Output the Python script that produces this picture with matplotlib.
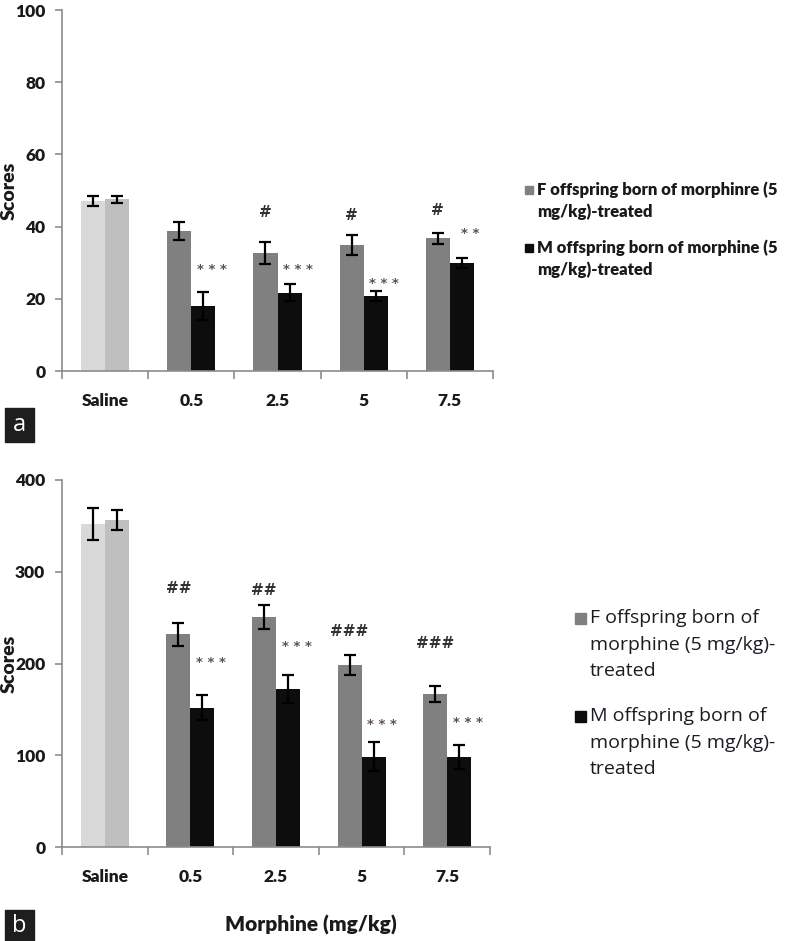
import matplotlib
matplotlib.use("Agg")
import matplotlib.pyplot as plt
from matplotlib.patches import Rectangle
import numpy as np

# ---------------- data ----------------
categories = ["Saline", "0.5", "2.5", "5", "7.5"]

# panel a
a_f_means = [47.1, 38.8, 32.7, 34.9, 36.8]
a_f_err = [1.4, 2.6, 3.1, 2.9, 1.5]
a_m_means = [47.6, 18.0, 21.7, 20.8, 29.8]
a_m_err = [1.0, 4.0, 2.3, 1.3, 1.4]
a_f_marks = ["", "", "#", "#", "#"]
a_f_mark_y = [0, 0, 44, 43, 44.5]
a_m_marks = ["", "***", "***", "***", "**"]
a_m_mark_y = [0, 28, 28, 24.3, 38]
a_yticks = [0, 20, 40, 60, 80, 100]

# panel b
b_f_means = [352, 232, 251, 198, 167]
b_f_err = [17.4, 12.4, 12.9, 11.0, 8.9]
b_m_means = [356, 152, 172.5, 98.5, 98.5]
b_m_err = [11.0, 13.8, 15.3, 15.4, 13.0]
b_f_marks = ["", "##", "##", "###", "###"]
b_f_mark_y = [0, 282, 280, 235, 222]
b_m_marks = ["", "***", "***", "***", "***"]
b_m_mark_y = [0, 201.5, 218, 133, 136]
b_yticks = [0, 100, 200, 300, 400]

a_legend = ["F offspring born of morphinre (5\nmg/kg)-treated",
            "M offspring born of morphine (5\nmg/kg)-treated"]
b_legend = ["F offspring born of\nmorphine (5 mg/kg)-\ntreated",
            "M offspring born of\nmorphine (5 mg/kg)-\ntreated"]

# ---------------- style ----------------
F_COLORS = ["#d9d9d9", "#808080", "#808080", "#808080", "#808080"]
M_COLORS = ["#bfbfbf", "#0d0d0d", "#0d0d0d", "#0d0d0d", "#0d0d0d"]
AXIS_COLOR = "#8c8c8c"
STAR_COLOR = "#5e5252"
FONT = "Lato"

W, H = 786, 941
fig = plt.figure(figsize=(W / 100, H / 100), dpi=100)


def px_axes(x0, y0, x1, y1):
    return fig.add_axes([x0 / W, 1 - y1 / H, (x1 - x0) / W, (y1 - y0) / H])


def draw_panel(ax, fm, fe, mm, me, fmarks, fmy, mmarks, mmy, yticks, mark_size):
    x = np.arange(len(categories))
    w = 0.28
    ekw = dict(ecolor="black", elinewidth=1.6, capsize=4, capthick=1.6)
    ax.bar(x - w / 2, fm, w, color=F_COLORS, yerr=fe, error_kw=ekw, zorder=2)
    ax.bar(x + w / 2, mm, w, color=M_COLORS, yerr=me, error_kw=ekw, zorder=2)
    for i in range(len(categories)):
        if fmarks[i]:
            ax.text(x[i] - w / 2, fmy[i], fmarks[i], ha="center", va="center",
                    fontsize=mark_size, fontweight="bold", color="#333333",
                    family="DejaVu Sans")
        if mmarks[i]:
            ax.text(x[i] + w / 2 + 0.1, mmy[i], " ".join(mmarks[i]), ha="center",
                    va="center", fontsize=9.5, fontweight="bold", color=STAR_COLOR,
                    family="DejaVu Sans")
    ax.set_xlim(-0.5, len(categories) - 0.5)
    ax.set_ylim(yticks[0], yticks[-1])
    ax.set_yticks(yticks)
    ax.set_xticks(x)
    ax.set_xticklabels(categories)
    ax.set_xticks(np.arange(-0.5, len(categories)), minor=True)
    ax.tick_params(axis="x", which="major", length=0, pad=16)
    ax.tick_params(axis="x", which="minor", length=6, color=AXIS_COLOR, width=1.2)
    ax.tick_params(axis="y", length=5, color=AXIS_COLOR, width=1.2, pad=7)
    for lab in ax.get_xticklabels() + ax.get_yticklabels():
        lab.set_fontweight("heavy")
        lab.set_fontsize(12.5)
        lab.set_family(FONT)
        lab.set_color("#1a1a1a")
    for s in ["top", "right"]:
        ax.spines[s].set_visible(False)
    for s in ["left", "bottom"]:
        ax.spines[s].set_color(AXIS_COLOR)
        ax.spines[s].set_linewidth(1.2)
    ax.set_ylabel("Scores", fontsize=14, fontweight="heavy", family=FONT,
                  color="#1a1a1a")
    ax.yaxis.set_label_coords(-44 / (ax.get_position().width * W), 0.5)


ax_a = px_axes(62, 10, 493, 371)
draw_panel(ax_a, a_f_means, a_f_err, a_m_means, a_m_err, a_f_marks, a_f_mark_y,
           a_m_marks, a_m_mark_y, a_yticks, 11)

ax_b = px_axes(62, 480, 490, 847)
draw_panel(ax_b, b_f_means, b_f_err, b_m_means, b_m_err, b_f_marks, b_f_mark_y,
           b_m_marks, b_m_mark_y, b_yticks, 11)


# legends (drawn manually so the swatch sits beside the first line)
def draw_legend(labels, colors, text_x, first_ys, pitch, sw_x, sw_size, text_kw):
    for label, color, y0 in zip(labels, colors, first_ys):
        fig.patches.append(Rectangle((sw_x / W, 1 - (y0 + sw_size / 2) / H),
                                     sw_size / W, sw_size / H,
                                     transform=fig.transFigure, color=color))
        for k, line in enumerate(label.split("\n")):
            fig.text(text_x / W, 1 - (y0 + k * pitch) / H, line, ha="left",
                     va="center", **text_kw)


draw_legend(a_legend, [F_COLORS[1], M_COLORS[1]], 537, [190, 248], 22, 525, 8,
            dict(family=FONT, fontweight="heavy", fontsize=12, color="#1a1a1a"))
draw_legend(b_legend, [F_COLORS[1], M_COLORS[1]], 590, [618, 716], 26.5, 575, 11,
            dict(family="Open Sans", fontsize=14, color="#1f1a22"))

# x-axis label
fig.text(311 / W, 1 - 925 / H, "Morphine (mg/kg)", ha="center", va="center",
         fontsize=15, fontweight="heavy", family=FONT, color="#1a1a1a")

# panel letters
for letter, y0, y1 in [("a", 408, 442), ("b", 910, 941)]:
    fig.patches.append(Rectangle((5 / W, 1 - y1 / H), 29 / W, (y1 - y0) / H,
                                 transform=fig.transFigure, color="#1e1e1e"))
    fig.text(19.5 / W, 1 - (y0 + y1) / 2 / H, letter, ha="center", va="center",
             color="white", fontsize=17, family="Open Sans")

fig.savefig("out.png", dpi=100)
